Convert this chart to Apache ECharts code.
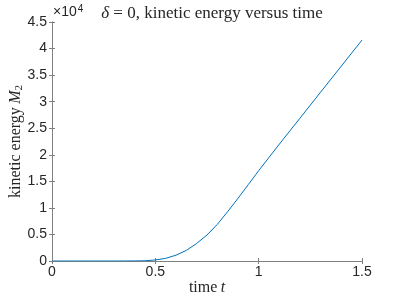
<!DOCTYPE html>
<html>
<head>
<meta charset="utf-8">
<script src="https://cdn.jsdelivr.net/npm/echarts@6/dist/echarts.min.js"></script>
<style>html,body{margin:0;padding:0;background:#fff}#c{width:399px;height:299px}</style>
</head>
<body>
<div id="c"></div>
<script>
// time values
var times = [0, 0.1, 0.2, 0.3, 0.35, 0.4, 0.45, 0.5, 0.55, 0.6, 0.65, 0.7, 0.75, 0.8, 0.85, 0.9, 0.95, 1.0, 1.1, 1.2, 1.3, 1.4, 1.5];
// kinetic energy M2 (raw units)
var energy = [0, 0, 0, 0, 5, 15, 40, 200, 500, 1100, 2000, 3300, 4900, 6900, 9300, 11800, 14400, 17000, 22000, 26900, 31800, 36700, 41600];
var xTicks = [0, 0.5, 1, 1.5];
var yTickLabels = ['0', '0.5', '1', '1.5', '2', '2.5', '3', '3.5', '4', '4.5'];

var data = times.map(function (t, i) { return [t, energy[i]]; });
var axisCol = '#808080';
var txtCol = '#262626';
var sans = 'Liberation Sans, Arial, sans-serif';
var serif = 'Liberation Serif, DejaVu Serif, serif';

var chart = echarts.init(document.getElementById('c'), null, {renderer: 'canvas'});
chart.setOption({
  animation: false,
  title: {
    text: '{i|δ} = 0, kinetic energy versus time',
    left: 207, top: 0, textAlign: 'center',
    textStyle: {fontFamily: serif, fontSize: 17, fontWeight: 'normal', color: txtCol,
      rich: {i: {fontFamily: serif, fontStyle: 'italic', fontSize: 17, color: txtCol}}}
  },
  graphic: [{
    type: 'text', left: 53, top: 4,
    style: {
      text: '×10{s|4}', fill: txtCol, fontSize: 14, fontFamily: sans,
      rich: {s: {fontSize: 10, fontFamily: sans, verticalAlign: 'top', padding: [0, 0, 7, 1], fill: txtCol}}
    }
  }],
  grid: {left: 52, right: 37, top: 22, bottom: 38, outerBoundsMode: 'none', containLabel: false},
  xAxis: [{
    type: 'value', min: 0, max: 1.5, interval: 0.5,
    name: '{r|time} {i|t}', nameLocation: 'middle', nameGap: 19, nameMoveOverlap: false,
    nameTextStyle: {rich: {r: {fontFamily: serif, fontSize: 16, color: txtCol}, i: {fontFamily: serif, fontStyle: 'italic', fontSize: 16, color: txtCol}}},
    axisLine: {show: true, lineStyle: {color: axisCol, width: 1}},
    axisTick: {show: true, inside: true, length: 3, lineStyle: {color: axisCol}},
    axisLabel: {color: txtCol, fontFamily: sans, fontSize: 14, margin: 4,
      formatter: function (v) { return xTicks.indexOf(v) >= 0 ? String(v) : ''; }},
    splitLine: {show: false}
  }, {
    type: 'value', min: 0, max: 1.5, interval: 0.5, position: 'top',
    axisLine: {show: true, lineStyle: {color: axisCol, width: 1}},
    axisTick: {show: true, inside: true, length: 3, lineStyle: {color: axisCol}},
    axisLabel: {show: false}, splitLine: {show: false}
  }],
  yAxis: [{
    type: 'value', min: 0, max: 45000, interval: 5000,
    name: '{r|kinetic energy} {i|M}{s|2}', nameLocation: 'middle', nameGap: 27, nameRotate: 90, nameMoveOverlap: false,
    nameTextStyle: {rich: {
      r: {fontFamily: serif, fontSize: 16, color: txtCol},
      i: {fontFamily: serif, fontStyle: 'italic', fontSize: 16, color: txtCol},
      s: {fontFamily: serif, fontSize: 11, color: txtCol, verticalAlign: 'bottom', padding: [7, 0, 0, 0]}}},
    axisLine: {show: true, lineStyle: {color: axisCol, width: 1}},
    axisTick: {show: true, inside: true, length: 3, lineStyle: {color: axisCol}},
    axisLabel: {color: txtCol, fontFamily: sans, fontSize: 14, margin: 5,
      formatter: function (v) { return yTickLabels[Math.round(v / 5000)]; }},
    splitLine: {show: false}
  }, {
    type: 'value', min: 0, max: 45000, interval: 5000, position: 'right',
    axisLine: {show: true, lineStyle: {color: axisCol, width: 1}},
    axisTick: {show: true, inside: true, length: 3, lineStyle: {color: axisCol}},
    axisLabel: {show: false}, splitLine: {show: false}
  }],
  series: [{
    type: 'line', data: data, xAxisIndex: 0, yAxisIndex: 0,
    showSymbol: false, smooth: false,
    lineStyle: {color: '#0072BD', width: 1}
  }]
});
</script>
</body>
</html>
